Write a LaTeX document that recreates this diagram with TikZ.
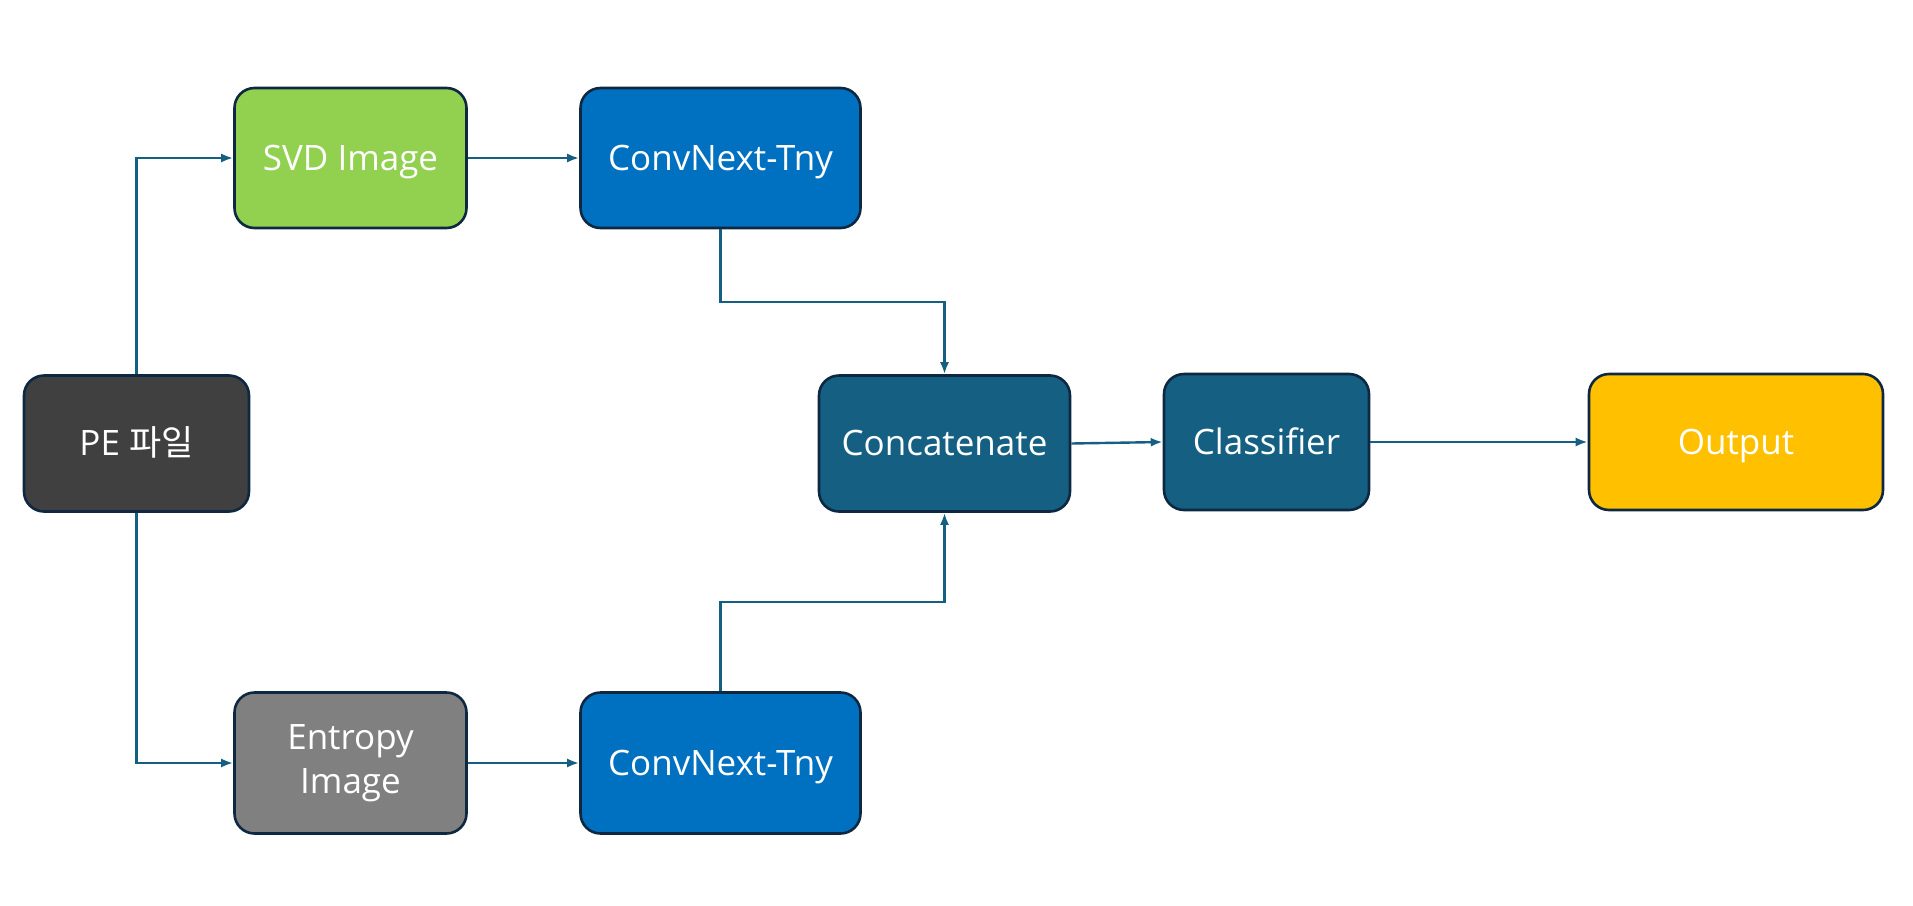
\documentclass[tikz,border=0pt]{standalone}
\usepackage{fontspec}
\setmainfont{Open Sans}
\newfontfamily\krfont{Noto Sans CJK KR}
\usetikzlibrary{arrows.meta,calc}
\definecolor{bordercol}{HTML}{0E2841}
\definecolor{linkcol}{HTML}{156082}
\definecolor{svdcol}{HTML}{92D050}
\definecolor{convcol}{HTML}{0070C0}
\definecolor{pecol}{HTML}{404040}
\definecolor{entcol}{HTML}{808080}
\definecolor{tealcol}{HTML}{156082}
\definecolor{outcol}{HTML}{FFC000}
\begin{document}
\begin{tikzpicture}[x=1pt,y=-1pt,
  box/.style={draw=bordercol,line width=2.6pt,rounded corners=20pt,
    text=white,align=center,inner sep=0pt,
    font=\fontsize{35}{44}\selectfont},
  oneline/.style={text height=31pt,text depth=7pt},
  link/.style={draw=linkcol,line width=2.4pt,
    -{Latex[length=12pt,width=9pt]}}]
\useasboundingbox (0,0) rectangle (1913,905);
\node[box,oneline,fill=pecol,minimum width=225pt,minimum height=136pt] (pe) at (136.5,443.5) {PE {\krfont 파일}};
\node[box,oneline,fill=svdcol,minimum width=232pt,minimum height=140pt] (svd) at (350.5,158) {SVD Image};
\node[box,oneline,fill=convcol,minimum width=280pt,minimum height=140pt] (conv1) at (720.5,158) {ConvNext-Tny};
\node[box,fill=entcol,minimum width=232pt,minimum height=141pt] (ent) at (350.5,763) {Entropy\\Image};
\node[box,oneline,fill=convcol,minimum width=280pt,minimum height=141pt] (conv2) at (720.5,763) {ConvNext-Tny};
\node[box,oneline,fill=tealcol,minimum width=251pt,minimum height=136pt] (cat) at (944.5,443.5) {Concatenate};
\node[box,oneline,fill=tealcol,minimum width=205pt,minimum height=136pt] (cls) at (1266.5,442) {Classifier};
\node[box,oneline,fill=outcol,minimum width=294pt,minimum height=136pt] (out) at (1736,442) {Output};
\coordinate (j1) at (720.5,302);
\coordinate (j2) at (720.5,602);
\draw[link] (pe.north) |- (svd.west);
\draw[link] (pe.south) |- (ent.west);
\draw[link] (svd.east) -- (conv1.west);
\draw[link] (ent.east) -- (conv2.west);
\draw[link] (conv1.south) -- (j1) -| (cat.north);
\draw[link] (conv2.north) -- (j2) -| (cat.south);
\draw[link] (cat.east) -- (cls.west);
\draw[link] (cls.east) -- (out.west);
\end{tikzpicture}
\end{document}
